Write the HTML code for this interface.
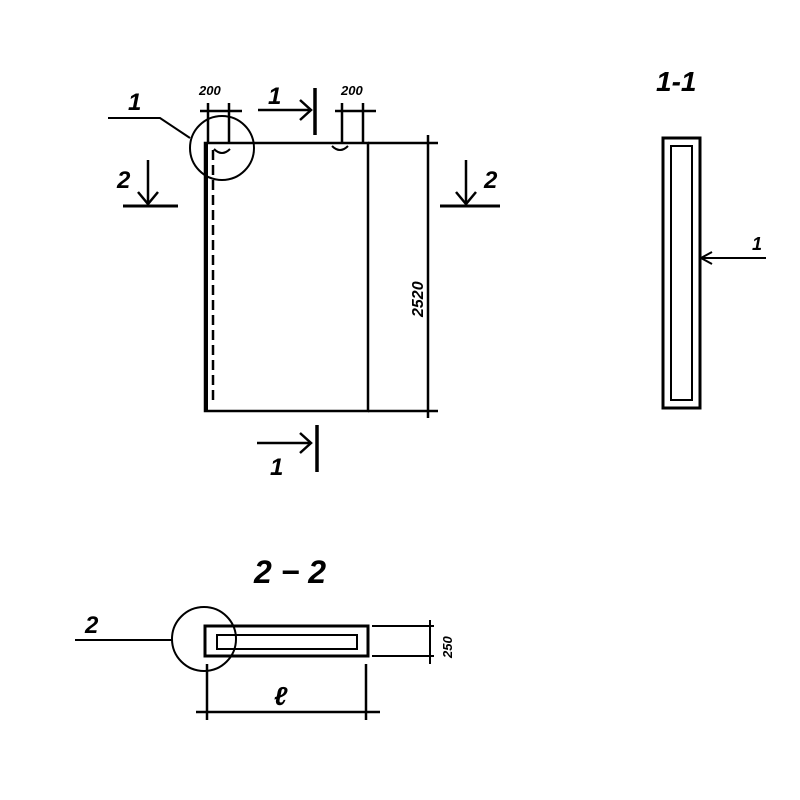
<!DOCTYPE html>
<html><head><style>body{margin:0;background:#fff}svg{display:block}text{font-family:"Liberation Sans",sans-serif;font-weight:bold;font-style:italic;fill:#000}</style></head><body>
<svg width="800" height="800" viewBox="0 0 800 800" xmlns="http://www.w3.org/2000/svg">
<g stroke="#000" fill="none" stroke-width="2.5">
<rect x="205" y="143" width="163" height="268"/>
<line x1="206" y1="143" x2="206" y2="411" stroke-width="4"/>
<line x1="213" y1="150" x2="213" y2="405" stroke-dasharray="10,5"/>
<path d="M214 149 q8 8 16 0" stroke-width="2"/>
<path d="M332 146 q8 8 16 0" stroke-width="2"/>
<line x1="368" y1="143" x2="438" y2="143"/>
<line x1="368" y1="411" x2="438" y2="411"/>
<line x1="428" y1="135" x2="428" y2="418"/>
<circle cx="222" cy="148" r="32" stroke-width="2"/>
<polyline points="108,118 160,118 190,138" stroke-width="2"/>
<line x1="208" y1="103" x2="208" y2="143"/><line x1="229" y1="103" x2="229" y2="143"/>
<line x1="200" y1="111" x2="242" y2="111"/>
<line x1="342" y1="103" x2="342" y2="143"/><line x1="363" y1="103" x2="363" y2="143"/>
<line x1="335" y1="111" x2="376" y2="111"/>
<line x1="258" y1="110" x2="310" y2="110"/><polyline points="300,100 311,110 300,120"/>
<line x1="315" y1="88" x2="315" y2="135" stroke-width="3.5"/>
<line x1="257" y1="443" x2="310" y2="443"/><polyline points="300,433 311,443 300,453"/>
<line x1="317" y1="425" x2="317" y2="472" stroke-width="3.5"/>
<line x1="148" y1="160" x2="148" y2="203"/><polyline points="138,192 148,204 158,192"/>
<line x1="123" y1="206" x2="178" y2="206" stroke-width="3"/>
<line x1="466" y1="160" x2="466" y2="203"/><polyline points="456,192 466,204 476,192"/>
<line x1="440" y1="206" x2="500" y2="206" stroke-width="3"/>
<rect x="663" y="138" width="37" height="270" stroke-width="3"/>
<rect x="671" y="146" width="21" height="254" stroke-width="2"/>
<line x1="700" y1="258" x2="766" y2="258" stroke-width="2"/>
<polyline points="712,252 701,258 712,264" stroke-width="2"/>
<circle cx="204" cy="639" r="32" stroke-width="2"/>
<line x1="75" y1="640" x2="172" y2="640" stroke-width="2"/>
<rect x="205" y="626" width="163" height="30" stroke-width="3"/>
<rect x="217" y="635" width="140" height="14" stroke-width="2"/>
<line x1="372" y1="626" x2="434" y2="626" stroke-width="2"/>
<line x1="372" y1="656" x2="434" y2="656" stroke-width="2"/>
<line x1="430" y1="620" x2="430" y2="664" stroke-width="2"/>
<line x1="207" y1="664" x2="207" y2="720"/>
<line x1="366" y1="664" x2="366" y2="720"/>
<line x1="196" y1="712" x2="380" y2="712"/>
</g>
<text x="128" y="110" font-size="24">1</text>
<text x="199" y="95" font-size="13">200</text>
<text x="341" y="95" font-size="13">200</text>
<text x="268" y="104" font-size="24">1</text>
<text x="270" y="475" font-size="24">1</text>
<text x="117" y="188" font-size="24">2</text>
<text x="484" y="188" font-size="24">2</text>
<text transform="translate(423,317) rotate(-90)" font-size="16">2520</text>
<text x="656" y="91" font-size="28">1-1</text>
<text x="752" y="250" font-size="18">1</text>
<text x="254" y="583" font-size="32" font-style="normal">2 − 2</text>
<text x="85" y="633" font-size="24">2</text>
<text transform="translate(452,658) rotate(-90)" font-size="13" font-style="normal">250</text>
<text x="274" y="705" font-size="26">ℓ</text>
</svg>
</body></html>
